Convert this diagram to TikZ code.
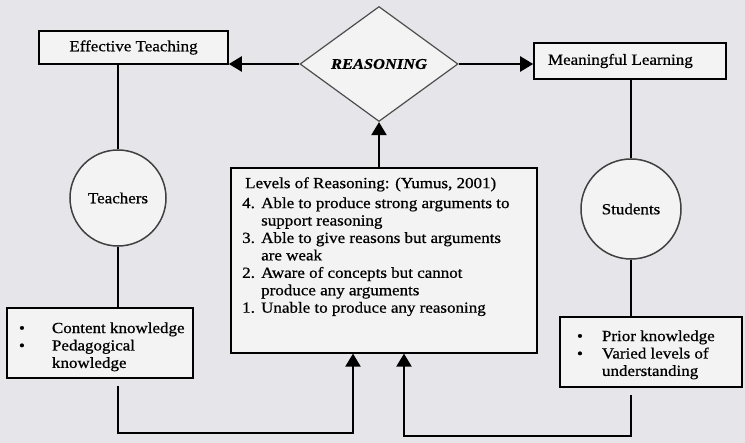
\documentclass[tikz,border=0pt]{standalone}
\usepackage{fontspec}
\setmainfont{Liberation Serif}[FakeStretch=1.1,FakeBold=0.7]
\usetikzlibrary{arrows.meta,shapes.geometric,calc}
\definecolor{bg}{RGB}{230,230,234}
\definecolor{boxfill}{RGB}{243,243,244}
\begin{document}
\begin{tikzpicture}[x=1bp,y=-1bp,
  every node/.style={font=\fontsize{15.5}{17.5}\selectfont},
  box/.style={draw=black, line width=1.6bp, fill=boxfill, inner sep=0pt},
  ring/.style={circle, draw=black!75, line width=1.5bp, fill=boxfill, inner sep=0pt},
  conn/.style={line width=2.2bp, draw=black},
  arr/.style={conn, -{Triangle[length=13bp,width=15bp]}}]
\useasboundingbox[fill=bg] (0,0) rectangle (745,443);

\node[box, minimum width=189bp, minimum height=33bp] (et) at (133.5,47.5) {Effective Teaching};
\node[box, minimum width=192bp, minimum height=36bp] (ml) at (630,61) {\makebox[164bp][l]{Meaningful Learning}};
\node[diamond, draw=black!70, line width=1.2bp, fill=boxfill, minimum width=158bp, minimum height=115bp, inner sep=0pt,
      font=\fontsize{15}{17}\selectfont\bfseries\itshape] (dia) at (379,64) {REASONING};

\node[ring, minimum size=96bp] (teach) at (118,198) {Teachers};
\node[ring, minimum size=100bp] (stud) at (631,209) {Students};

\node[box, minimum width=186bp, minimum height=70bp] (ck) at (100,343)
  {\raisebox{-4bp}[\height][\depth]{\begin{tabular}{@{}l@{}l@{}}\makebox[33bp][l]{\textbullet} & \makebox[129bp][l]{Content knowledge}\\ \textbullet & Pedagogical\\ & knowledge\end{tabular}}};
\node[box, minimum width=182bp, minimum height=70bp] (sk) at (651,352)
  {\raisebox{-3bp}[\height][\depth]{\begin{tabular}{@{}l@{}l@{}}\makebox[25bp][l]{\textbullet} & \makebox[123bp][l]{Prior knowledge}\\ \textbullet & Varied levels of\\ & understanding\end{tabular}}};

\node[box, minimum width=306bp, minimum height=185bp, anchor=north west] (lev) at (230,167) {};
\node[anchor=north west, inner sep=0pt, align=left] (levtext) at (242,175.75)
  {\begin{tabular}{@{}p{19bp}@{}l@{}}
   \multicolumn{2}{@{}l@{}}{\hspace*{3bp}Levels of Reasoning: (Yumus, 2001)}\\[2.5bp]
   4. & Able to produce strong arguments to\\
      & support reasoning\\
   3. & Able to give reasons but arguments\\
      & are weak\\
   2. & Aware of concepts but cannot\\
      & produce any arguments\\
   1. & Unable to produce any reasoning
   \end{tabular}};

\coordinate (botL) at (0,433);
\coordinate (botR) at (0,436);
\coordinate (lin1) at ($(lev.south west)+(123,0)$);
\coordinate (lin2) at ($(lev.south west)+(174,0)$);

\draw[conn] (teach.north) -- (teach.north |- et.south);
\draw[conn] (teach.south) -- (teach.south |- ck.north);
\draw[conn] (stud.north) -- (stud.north |- ml.south);
\draw[conn] (stud.south) -- (stud.south |- sk.north);
\draw[arr] (dia.west) -- (dia.west -| et.east);
\draw[arr] (dia.east) -- (dia.east -| ml.west);
\draw[arr] (dia.south |- lev.north) -- (dia.south);
\draw[arr] ([yshift=-7bp]ck.south -| teach.south) -- (teach.south |- botL) -| (lin1);
\draw[arr] ([yshift=-7bp]sk.south -| stud.south) -- (stud.south |- botR) -| (lin2);
\end{tikzpicture}
\end{document}
